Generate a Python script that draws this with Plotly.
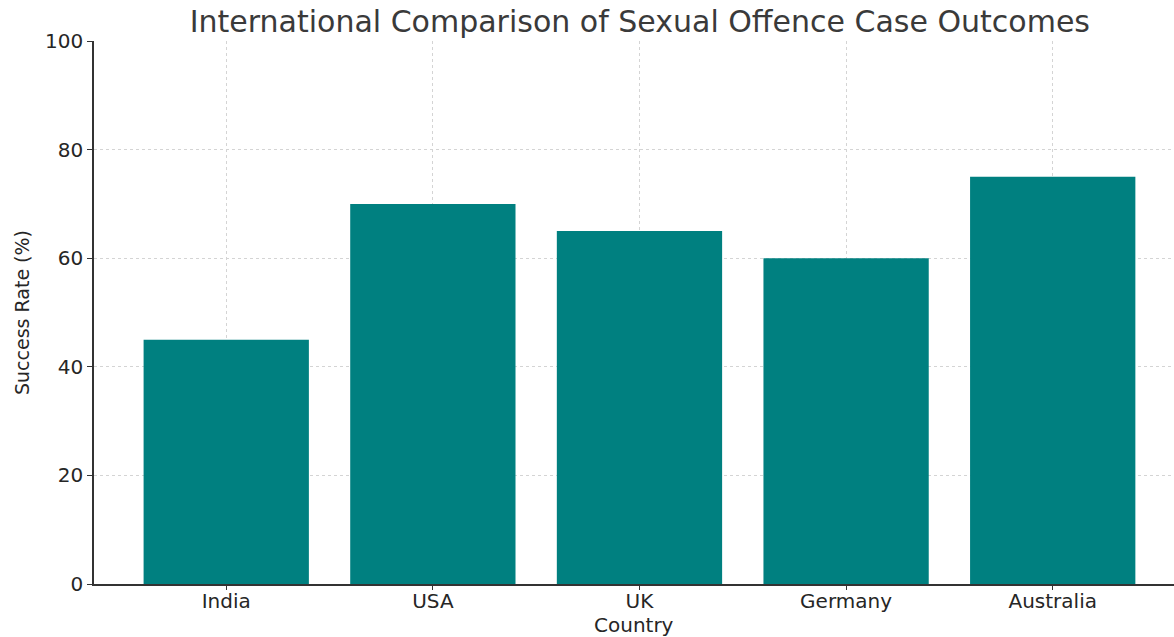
import plotly.graph_objects as go

countries = ["India", "USA", "UK", "Germany", "Australia"]
success_rate = [45, 70, 65, 60, 75]
y_ticks = [0, 20, 40, 60, 80, 100]

font = "DejaVu Sans"
text_color = "#262626"

fig = go.Figure(
    go.Bar(
        x=countries,
        y=success_rate,
        marker=dict(color="#008080", line=dict(width=0)),
        width=0.8,
    )
)

fig.update_layout(
    width=1174,
    height=637,
    margin=dict(l=94, r=0, t=41, b=53),
    paper_bgcolor="white",
    plot_bgcolor="white",
    showlegend=False,
    font=dict(family=font, color=text_color, size=20),
    title=dict(
        text="International Comparison of Sexual Offence Case Outcomes",
        x=0.545,
        xanchor="center",
        y=0.966,
        yanchor="middle",
        font=dict(family=font, size=30, color="#3a3a3a"),
    ),
    # x-axis title placed as an annotation so it sits just under the tick labels
    annotations=[
        dict(
            text="Country",
            xref="paper",
            yref="paper",
            x=0.5,
            y=-0.075,
            xanchor="center",
            yanchor="middle",
            showarrow=False,
            font=dict(family=font, size=20, color=text_color),
        )
    ],
)

fig.update_xaxes(
    range=[-0.64, 4.587],
    tickmode="array",
    tickvals=countries,
    ticks="outside",
    ticklen=4,
    tickwidth=1.2,
    tickcolor="#333333",
    ticklabelstandoff=-6,
    showline=True,
    linecolor="#333333",
    linewidth=1.5,
    showgrid=True,
    gridcolor="#d4d4d4",
    griddash="3px,3px",
    gridwidth=1,
    tickfont=dict(size=20),
)

fig.update_yaxes(
    range=[0, 100],
    tickvals=y_ticks,
    ticks="outside",
    ticklen=5,
    tickwidth=1.2,
    tickcolor="#333333",
    showline=True,
    linecolor="#333333",
    linewidth=1.5,
    showgrid=True,
    gridcolor="#d4d4d4",
    griddash="3px,3px",
    gridwidth=1,
    zeroline=False,
    tickfont=dict(size=20),
    title=dict(text="Success Rate (%)", font=dict(size=19), standoff=10),
)

fig.write_html("out.html")
